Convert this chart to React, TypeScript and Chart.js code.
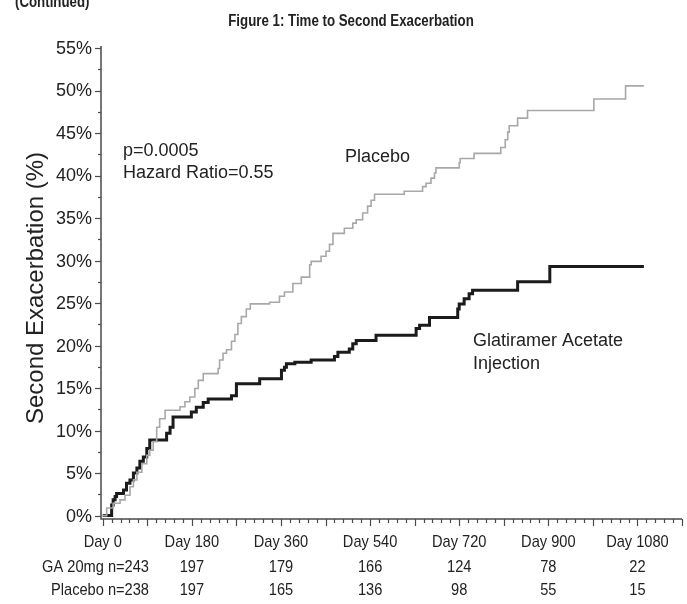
import React, { useEffect, useRef } from "react";
import { Chart, registerables } from "chart.js";

Chart.register(...registerables);

// ---- Data ----
const gaDays = [0, 18, 21, 25, 28, 42, 48, 55, 62, 69, 75, 82, 89, 95, 129, 136, 142, 179, 189, 203, 213, 260, 270, 317, 361, 367, 371, 388, 421, 468, 475, 498, 505, 512, 552, 633, 640, 660, 717, 720, 730, 740, 747, 838, 903, 1093];
const gaPct = [0, 1.25, 1.85, 2.25, 2.6, 3.0, 3.8, 4.2, 5.0, 5.6, 6.4, 6.9, 7.9, 8.9, 9.7, 10.4, 11.6, 12.2, 12.75, 13.3, 13.7, 14.1, 15.5, 16.1, 17.1, 17.45, 17.85, 18.05, 18.3, 18.7, 19.2, 19.6, 20.2, 20.6, 21.2, 22.0, 22.4, 23.3, 24.3, 24.9, 25.5, 26.1, 26.5, 27.5, 29.3, 29.3];

const pbDays = [0, 8, 21, 35, 45, 55, 62, 69, 79, 89, 95, 102, 109, 115, 126, 156, 166, 176, 186, 193, 203, 233, 236, 243, 250, 260, 267, 273, 280, 290, 298, 337, 357, 367, 384, 401, 418, 421, 441, 451, 458, 465, 488, 505, 512, 525, 535, 542, 549, 609, 646, 653, 663, 670, 673, 720, 722, 750, 804, 813, 818, 821, 838, 858, 992, 1056, 1093];
const pbPct = [0, 0.9, 1.45, 1.85, 2.4, 3.4, 4.2, 5.1, 6.1, 7.1, 7.7, 8.7, 10.4, 11.4, 12.4, 12.8, 13.4, 13.95, 14.95, 15.9, 16.7, 17.3, 18.3, 19.1, 19.5, 20.5, 21.3, 22.6, 23.4, 24.3, 24.9, 25.1, 25.8, 26.3, 27.3, 28.05, 29.5, 29.9, 30.5, 31.1, 31.9, 33.2, 33.8, 34.4, 34.8, 35.6, 36.4, 37.1, 37.8, 38.15, 38.7, 39.1, 39.7, 40.3, 40.9, 41.5, 42.0, 42.6, 43.3, 44.2, 45.1, 45.85, 46.75, 47.65, 49.0, 50.55, 50.55];

const dayTicks = [0, 180, 360, 540, 720, 900, 1080];
const pctTicks = [0, 5, 10, 15, 20, 25, 30, 35, 40, 45, 50, 55];
const riskLabels = ["GA 20mg n=243", "Placebo n=238"];
const gaAtRisk = ["197", "179", "166", "124", "78", "22"];
const pbAtRisk = ["197", "165", "136", "98", "55", "15"];

const SANS = '"Liberation Sans", Arial, Helvetica, sans-serif';
const TEXT = "#222";
const AXIS = "#4a4a4a";

function txt(ctx: CanvasRenderingContext2D, s: string, x: number, y: number, align: CanvasTextAlign, sx: number) {
  ctx.save();
  ctx.translate(x, y);
  ctx.scale(sx, 1);
  ctx.textAlign = align;
  ctx.fillText(s, 0, 0);
  ctx.restore();
}

const decorPlugin = {
  id: "decor",
  beforeDatasetsDraw(chart: any) {
    const { ctx, chartArea } = chart;
    const xs = chart.scales.x;
    const ys = chart.scales.y;
    ctx.save();
    ctx.strokeStyle = AXIS;
    ctx.lineWidth = 1.5;
    ctx.beginPath();
    ctx.moveTo(chartArea.left, chartArea.top - 2);
    ctx.lineTo(chartArea.left, chartArea.bottom);
    ctx.lineTo(chartArea.right, chartArea.bottom);
    ctx.stroke();
    ctx.lineWidth = 1.2;
    for (let v = 0; v <= 55.001; v += 2.5) {
      const y = Math.round(ys.getPixelForValue(v)) + 0.5;
      const len = Math.abs(v % 5) < 0.01 ? 6 : 3;
      ctx.beginPath();
      ctx.moveTo(chartArea.left - len, y);
      ctx.lineTo(chartArea.left, y);
      ctx.stroke();
    }
    for (let d = 0; d <= 1170; d += 18) {
      const x = Math.round(xs.getPixelForValue(d)) + 0.5;
      const len = d % 90 === 0 ? 7 : 4;
      ctx.beginPath();
      ctx.moveTo(x, chartArea.bottom);
      ctx.lineTo(x, chartArea.bottom + len);
      ctx.stroke();
    }
    ctx.restore();
  },
  afterDraw(chart: any) {
    const { ctx, chartArea } = chart;
    const xs = chart.scales.x;
    const ys = chart.scales.y;
    ctx.save();
    ctx.fillStyle = TEXT;
    ctx.textBaseline = "middle";
    // y tick labels
    ctx.font = `18px ${SANS}`;
    pctTicks.forEach((v) => {
      txt(ctx, `${v}%`, chartArea.left - 9, ys.getPixelForValue(v) + 1, "right", 1);
    });
    // x tick labels and numbers at risk (condensed)
    ctx.font = `17px ${SANS}`;
    const NX = 0.86;
    dayTicks.forEach((d) => txt(ctx, `Day ${d}`, xs.getPixelForValue(d), 542, "center", NX));
    gaAtRisk.forEach((t, i) => txt(ctx, t, xs.getPixelForValue(dayTicks[i + 1]), 567, "center", NX));
    pbAtRisk.forEach((t, i) => txt(ctx, t, xs.getPixelForValue(dayTicks[i + 1]), 590, "center", NX));
    txt(ctx, riskLabels[0], 149, 567, "right", NX);
    txt(ctx, riskLabels[1], 149, 590, "right", NX);
    // annotations
    ctx.font = `18px ${SANS}`;
    txt(ctx, "p=0.0005", 123, 151, "left", 1);
    txt(ctx, "Hazard Ratio=0.55", 123, 173, "left", 1);
    txt(ctx, "Placebo", 345, 157, "left", 1);
    txt(ctx, "Glatiramer Acetate", 473, 341, "left", 1);
    txt(ctx, "Injection", 473, 364, "left", 1);
    // y axis title
    ctx.save();
    ctx.translate(36, 288);
    ctx.rotate(-Math.PI / 2);
    ctx.textAlign = "center";
    ctx.font = `24px ${SANS}`;
    ctx.fillText("Second Exacerbation (%)", 0, 0);
    ctx.restore();
    // titles (bold, condensed)
    ctx.font = `bold 16px ${SANS}`;
    txt(ctx, "Figure 1: Time to Second Exacerbation", 351, 22, "center", 0.83);
    txt(ctx, "(Continued)", 15, 3, "left", 0.83);
    ctx.restore();
  },
};

export default function App() {
  const ref = useRef<HTMLCanvasElement | null>(null);
  useEffect(() => {
    if (!ref.current) return;
    const chart = new Chart(ref.current, {
      type: "line",
      data: {
        datasets: [
          {
            label: "Placebo",
            data: pbDays.map((d, i) => ({ x: d, y: pbPct[i] })),
            borderColor: "#a8a8a8",
            borderWidth: 1.6,
            stepped: "before",
            pointRadius: 0,
            fill: false,
          },
          {
            label: "Glatiramer Acetate Injection",
            data: gaDays.map((d, i) => ({ x: d, y: gaPct[i] })),
            borderColor: "#1b1b1b",
            borderWidth: 3,
            stepped: "before",
            pointRadius: 0,
            fill: false,
          },
        ],
      },
      options: {
        responsive: false,
        animation: false,
        devicePixelRatio: 1,
        layout: { padding: { left: 101, right: 5, top: 48, bottom: 85 } },
        plugins: { legend: { display: false }, tooltip: { enabled: false } },
        scales: {
          x: { type: "linear", min: -3.5, max: 1170, display: false },
          y: { type: "linear", min: -0.4, max: 55, display: false },
        },
      },
      plugins: [decorPlugin],
    } as any);
    return () => chart.destroy();
  }, []);
  return (
    <div style={{ position: "absolute", left: 0, top: 0, width: 687, height: 604, background: "#fff" }}>
      <canvas ref={ref} width={687} height={604} style={{ display: "block" }} />
    </div>
  );
}
